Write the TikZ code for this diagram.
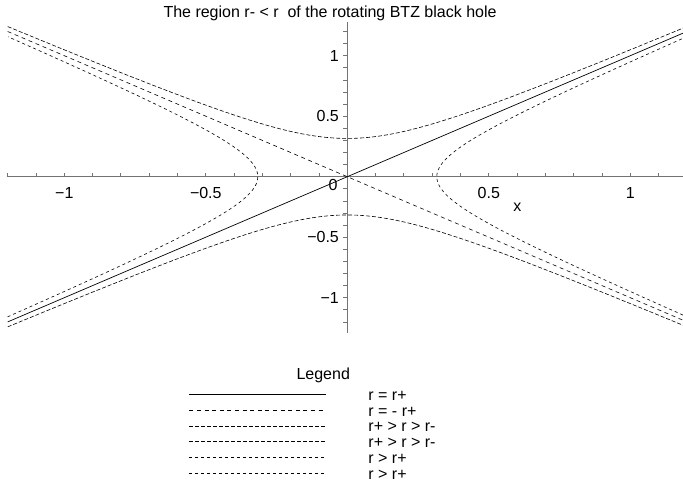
\documentclass[tikz,border=0pt]{standalone}
\usepackage{fontspec}
\setmainfont{Liberation Sans}
\begin{document}
\begin{tikzpicture}[x=283pt,y=121pt,
  axis/.style={black!55,line width=1pt},
  lbl/.style={font=\fontsize{16}{19}\selectfont,inner sep=0pt},
  rplus/.style={line width=0.7pt},
  rminus/.style={line width=0.6pt,dash pattern=on 4pt off 3.6pt},
  between/.style={line width=0.6pt,dash pattern=on 4pt off 2pt},
  outside/.style={line width=0.6pt,dash pattern=on 3pt off 3pt}]
\useasboundingbox (-1.2272,-2.5231) rectangle (1.1862,1.4603);

\coordinate (O) at (0,0);
\coordinate (XL) at (-1.204,0);
\coordinate (XR) at (1.1862,0);
\coordinate (YB) at (0,-1.29);
\coordinate (YT) at (0,1.28);
\coordinate (SW) at (-1.2,-1.2);
\coordinate (NE) at (1.1862,1.1862);
\coordinate (NW) at (-1.2,1.2);
\coordinate (SE) at (1.1862,-1.1862);

% axes
\draw[axis] (XL) -- (XR);
\draw[axis] (YB) -- (YT);
\foreach \t in {-1.2,-1.1,...,1.15}
  \draw[axis,line width=0.8pt] (\t,0) -- ++(0,4pt);
\foreach \t in {-1.2,-1.1,...,1.25}
  \draw[axis,line width=0.8pt] (0,\t) -- ++(-4pt,0);

% curves
\draw[rplus] (SW) -- (NE);
\draw[rminus] (NW) -- (SE);
\draw[between] plot[domain=-1.2:1.1862,samples=121,smooth] (\x,{sqrt(0.1+\x*\x)});
\draw[between] plot[domain=-1.2:1.1862,samples=121,smooth] (\x,{-sqrt(0.1+\x*\x)});
\draw[outside] plot[domain=-1.158:1.158,samples=121,smooth] ({-sqrt(0.1+\x*\x)},\x);
\draw[outside] plot[domain=-1.1433:1.1433,samples=121,smooth] ({sqrt(0.1+\x*\x)},\x);

% tick labels
\node[lbl,anchor=north] (xm1) at (-1,-0.085) {−1};
\node[lbl,anchor=north] (xm05) at (-0.5,-0.085) {−0.5};
\node[lbl,anchor=north] (xp05) at (0.5,-0.085) {0.5};
\node[lbl,anchor=north] (xp1) at (1,-0.085) {1};
\node[lbl] (zero) at (-0.05,-0.069) {0};
\node[lbl,anchor=east] (yp1) at (-0.029,1) {1};
\node[lbl,anchor=east] (yp05) at (-0.029,0.5) {0.5};
\node[lbl,anchor=east] (ym05) at (-0.029,-0.5) {−0.5};
\node[lbl,anchor=east] (ym1) at (-0.029,-1) {−1};
\node[lbl] (xlabel) at (0.601,-0.253) {x};

\node[lbl,anchor=base] (title) at (-0.061,1.316) {The region r- < r\ \ of the rotating BTZ black hole};

% legend
\node[lbl,anchor=base] (legend) at (-0.085,-1.676) {Legend};
\coordinate (L1) at (-0.558,-1.798);
\coordinate (L2) at (-0.558,-1.929);
\coordinate (L3) at (-0.558,-2.059);
\coordinate (L4) at (-0.558,-2.190);
\coordinate (L5) at (-0.558,-2.320);
\coordinate (L6) at (-0.558,-2.451);
\draw[rplus] (L1) -- ++(0.483,0);
\draw[rminus] (L2) -- ++(0.483,0);
\draw[between] (L3) -- ++(0.483,0);
\draw[between] (L4) -- ++(0.483,0);
\draw[outside] (L5) -- ++(0.483,0);
\draw[outside] (L6) -- ++(0.483,0);
\node[lbl,anchor=base west] (lab1) at (0.074,-1.848) {r = r+};
\node[lbl,anchor=base west] (lab2) at (0.074,-1.979) {r = - r+};
\node[lbl,anchor=base west] (lab3) at (0.074,-2.109) {r+ > r > r-};
\node[lbl,anchor=base west] (lab4) at (0.074,-2.240) {r+ > r > r-};
\node[lbl,anchor=base west] (lab5) at (0.074,-2.370) {r > r+};
\node[lbl,anchor=base west] (lab6) at (0.074,-2.501) {r > r+};
\end{tikzpicture}
\end{document}
